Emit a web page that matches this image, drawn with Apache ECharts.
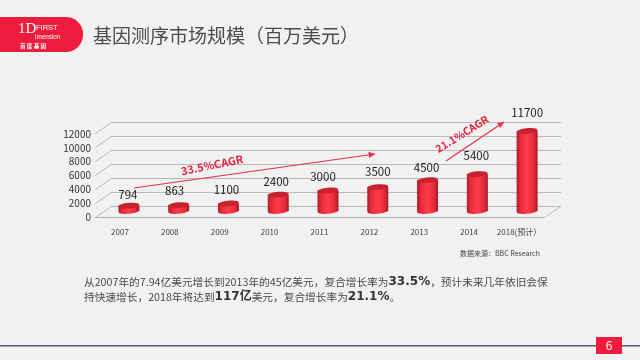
<!DOCTYPE html>
<html><head><meta charset="utf-8">
<style>html,body{margin:0;padding:0;background:#f1f1f1}#c{width:640px;height:360px}</style>
<script src="https://cdn.jsdelivr.net/npm/echarts@6/dist/echarts.min.js"></script>
</head><body><div id="c"></div>
<script>
const categories = ['2007','2008','2009','2010','2011','2012','2013','2014','2018(预计）'];
const marketSize = [794,863,1100,2400,3000,3500,4500,5400,11700];
const valueTicks = [0,2000,4000,6000,8000,10000,12000];
const titleText = '基因测序市场规模（百万美元）';
const sourceText = '数据来源：BBC Research';
const cagrA = '33.5%CAGR', cagrB = '21.1%CAGR';

const FONT = '"Noto Sans CJK SC","Noto Sans",sans-serif';
const labelLift = [11,14,14,13,14,15,13,18,18];
const labelShift = [-1,-4,-2,-2,-5,0,-1,-1,0];
const chart = echarts.init(document.getElementById('c'), null, {renderer:'canvas'});
const RED = '#e8213c';
const bodyFill = {type:'linear',x:0,y:0,x2:1,y2:0,colorStops:[
  {offset:0,color:'#b01c2a'},{offset:.2,color:'#e82c3c'},{offset:.5,color:'#fd3c4a'},
  {offset:.8,color:'#e62c3a'},{offset:1,color:'#a81a28'}]};
const hidden = {show:false};
const axisHidden = t => Object.assign({type:t,axisLine:hidden,axisTick:hidden,axisLabel:hidden,splitLine:hidden},
  t==='value'?{min:0,max:12000,interval:2000}:{data:categories});

function arrow(x1,y1,x2,y2){
  const a=Math.atan2(y2-y1,x2-x1),L=7,W=.45;
  return [{type:'line',silent:true,z:20,shape:{x1,y1,x2,y2},style:{stroke:'#e8304a',lineWidth:1.2}},
    {type:'polygon',silent:true,z:20,shape:{points:[[x2,y2],
      [x2-L*Math.cos(a-W),y2-L*Math.sin(a-W)],[x2-L*Math.cos(a+W),y2-L*Math.sin(a+W)]]},style:{fill:'#e8304a'}}];
}
function txt(x,y,text,fs,fill,extra){
  return {type:'text',silent:true,z:20,x,y,style:Object.assign({text,fontSize:fs,fontFamily:FONT,fill,
    verticalAlign:'middle'},extra||{})};
}
const BODY='#4a4a4a';
const rich1 = {b:{fontSize:12,fontWeight:'bold',fontFamily:'"DejaVu Sans","Noto Sans CJK SC",sans-serif',fill:'#333'}};
const graphics = [
  {type:'rect',silent:true,z:5,shape:{x:-20,y:17,width:103,height:35,r:17},style:{fill:'#ee1c3c'}},
  txt(18,29,'1D',15,'#fff',{fontFamily:'"Liberation Serif",serif'}),
  txt(36,28,'FIRST',7.5,'#fff',{fontFamily:'"Liberation Sans",sans-serif'}),
  txt(35,37,'imension',6.3,'#fff',{fontFamily:'"Liberation Sans",sans-serif'}),
  txt(20,46,'首 度 基 因',5.6,'#fff',{fontWeight:'bold'}),
  txt(93,36,titleText,19,'#4c4c4c'),
  txt(460,253,sourceText,7,'#444'),
  ...arrow(134,188,375,154),
  ...arrow(446,161,504,122),
  Object.assign(txt(212,165,cagrA,11,RED,{fontWeight:'bold',align:'center'}),{rotation:11.5*Math.PI/180}),
  Object.assign(txt(462,134,cagrB,10.5,RED,{fontWeight:'bold',align:'center'}),{rotation:32*Math.PI/180}),
  txt(84,282,'从2007年的7.94亿美元增长到2013年的45亿美元，复合增长率为{b|33.5%}，预计未来几年依旧会保',10.7,BODY,{rich:rich1}),
  txt(84,297,'持快速增长，2018年将达到{b|117亿}美元，复合增长率为{b|21.1%}。',10.7,BODY,{rich:rich1}),
  {type:'rect',silent:true,z:5,shape:{x:0,y:345,width:640,height:1.5},style:{fill:'#5b5b70'}},
  {type:'rect',silent:true,z:6,shape:{x:596,y:337,width:26,height:17},style:{fill:'#ee1c3c'}},
  txt(609,345.5,'6',12,'#fff',{align:'center'})
];

chart.setOption({
  backgroundColor:'#f1f1f1',animation:false,
  grid:[
    {left:95,width:449,top:134,height:83},
    {left:112,width:449,top:122,height:84},
    {left:104,width:448,top:129,height:82}
  ],
  xAxis:[
    {gridIndex:0,type:'category',data:categories,axisLine:{lineStyle:{color:'#b0b0b0'}},
      axisTick:{alignWithLabel:false,length:3,lineStyle:{color:'#b0b0b0'}},
      axisLabel:{fontSize:8,color:'#444',fontFamily:FONT,margin:11,interval:0}},
    Object.assign(axisHidden('category'),{gridIndex:1}),
    Object.assign(axisHidden('category'),{gridIndex:2})
  ],
  yAxis:[
    {gridIndex:0,type:'value',min:0,max:12000,interval:2000,axisLine:hidden,axisTick:hidden,splitLine:hidden,
      axisLabel:{fontSize:10,color:'#333',fontFamily:FONT,margin:4,formatter:v=>String(v)}},
    Object.assign(axisHidden('value'),{gridIndex:1,splitLine:{show:true,lineStyle:{color:'#b8b8b8',width:1}}}),
    Object.assign(axisHidden('value'),{gridIndex:2})
  ],
  series:[
    {type:'custom',xAxisIndex:1,yAxisIndex:1,silent:true,z:1,clip:false,data:valueTicks,
      renderItem(p,api){
        const y=api.coord([0,valueTicks[p.dataIndex]])[1],x=p.coordSys.x,s={stroke:'#b8b8b8',lineWidth:1};
        const kids=[{type:'line',shape:{x1:x,y1:y,x2:x-16.5,y2:y+11.5},style:s}];
        if(p.dataIndex===0){
          const r=x+p.coordSys.width;
          kids.push({type:'line',shape:{x1:r,y1:y,x2:r-16.5,y2:y+11.5},style:s});
        }
        return {type:'group',children:kids};
      }},
    {type:'custom',xAxisIndex:2,yAxisIndex:2,silent:true,z:5,clip:false,
      data:marketSize.map((v,i)=>[i,v]),
      renderItem(p,api){
        const i=api.value(0),v=api.value(1);
        const top=api.coord([i,v]),base=api.coord([i,0]);
        const rx=10.5,ry=2.8,cx=top[0],tilt=0.09;
        return {type:'group',children:[
          {type:'ellipse',x:cx,y:base[1],rotation:tilt,shape:{cx:0,cy:0,rx,ry},style:{fill:bodyFill}},
          {type:'rect',shape:{x:cx-rx,y:top[1],width:rx*2,height:base[1]-top[1]},style:{fill:bodyFill}},
          {type:'ellipse',x:cx,y:top[1],rotation:tilt,shape:{cx:0,cy:0,rx,ry},style:{fill:'#c8222f'}},
          {type:'text',x:cx+labelShift[i],y:top[1]-labelLift[i],
            style:{text:String(v),fontSize:11.5,fontFamily:FONT,fill:'#222',align:'center',verticalAlign:'middle'}}
        ]};
      }}
  ],
  graphic:{elements:graphics}
});
</script></body></html>
